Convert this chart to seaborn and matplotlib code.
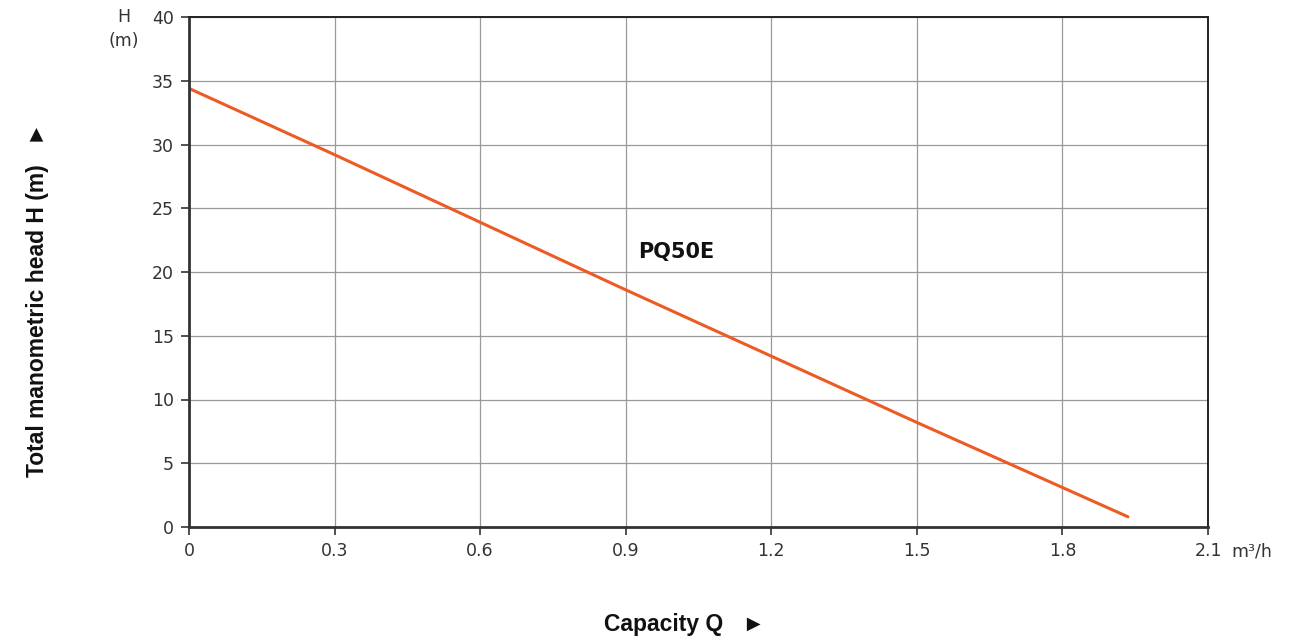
import matplotlib
matplotlib.use("Agg")
import matplotlib.pyplot as plt
import seaborn as sns
import pandas as pd

# Data
capacity_q = [0.0, 0.3, 0.6, 0.9, 1.2, 1.5, 1.8, 1.935]
head_h = [34.4, 29.2, 23.9, 18.6, 13.4, 8.2, 3.1, 0.8]
x_ticks = [0, 0.3, 0.6, 0.9, 1.2, 1.5, 1.8, 2.1]
x_tick_labels = ["0", "0.3", "0.6", "0.9", "1.2", "1.5", "1.8", "2.1"]
y_ticks = [0, 5, 10, 15, 20, 25, 30, 35, 40]
series_name = "PQ50E"

df = pd.DataFrame({"Q": capacity_q, "H": head_h})

sns.set_style("white")
plt.rcParams["font.family"] = ["DejaVu Sans"]

fig = plt.figure(figsize=(13.16, 6.42), dpi=100)
ax = fig.add_axes([189 / 1316, 1 - 527 / 642, (1208 - 189) / 1316, (527 - 17) / 642])

sns.lineplot(data=df, x="Q", y="H", ax=ax, color="#EE5A24", linewidth=2.2)

ax.set_xlim(0, 2.1)
ax.set_ylim(0, 40)
ax.set_xticks(x_ticks)
ax.set_xticklabels(x_tick_labels)
ax.set_yticks(y_ticks)
ax.grid(True, color="#999999", linewidth=0.9)
ax.set_axisbelow(True)

for side in ["left", "bottom"]:
    ax.spines[side].set_color("#333333")
    ax.spines[side].set_linewidth(2.0)
for side in ["top", "right"]:
    ax.spines[side].set_color("#222222")
    ax.spines[side].set_linewidth(1.4)

ax.tick_params(axis="both", which="both", direction="out", length=6, width=1.2,
               color="#333333", labelcolor="#333333", labelsize=12.5, pad=5,
               left=True, bottom=True)

ax.set_xlabel("")
ax.set_ylabel("")

fig.text(685, 642 - 625, "Capacity Q   \u25BA", transform=None, ha="center", va="center",
         fontsize=16.5, fontweight="bold", family=["Liberation Sans", "DejaVu Sans"], color="#111111")
fig.text(38, 642 - 300, "Total manometric head H (m)   \u25BA", transform=None, ha="center", va="center",
         rotation=90, fontsize=16.5, fontweight="bold", family=["Liberation Sans", "DejaVu Sans"],
         color="#111111")

ax.text(1.004, 21.6, series_name, ha="center", va="center", fontsize=15, fontweight="bold",
        color="#111111")

fig.text(124, 642 - 17, "H", transform=None, ha="center", va="center", fontsize=12.5, color="#333333")
fig.text(124, 642 - 41, "(m)", transform=None, ha="center", va="center", fontsize=12.5, color="#333333")
fig.text(1252, 642 - 551, "m\u00B3/h", transform=None, ha="center", va="center", fontsize=12.5, color="#333333")

fig.savefig("out.png", dpi=100)
